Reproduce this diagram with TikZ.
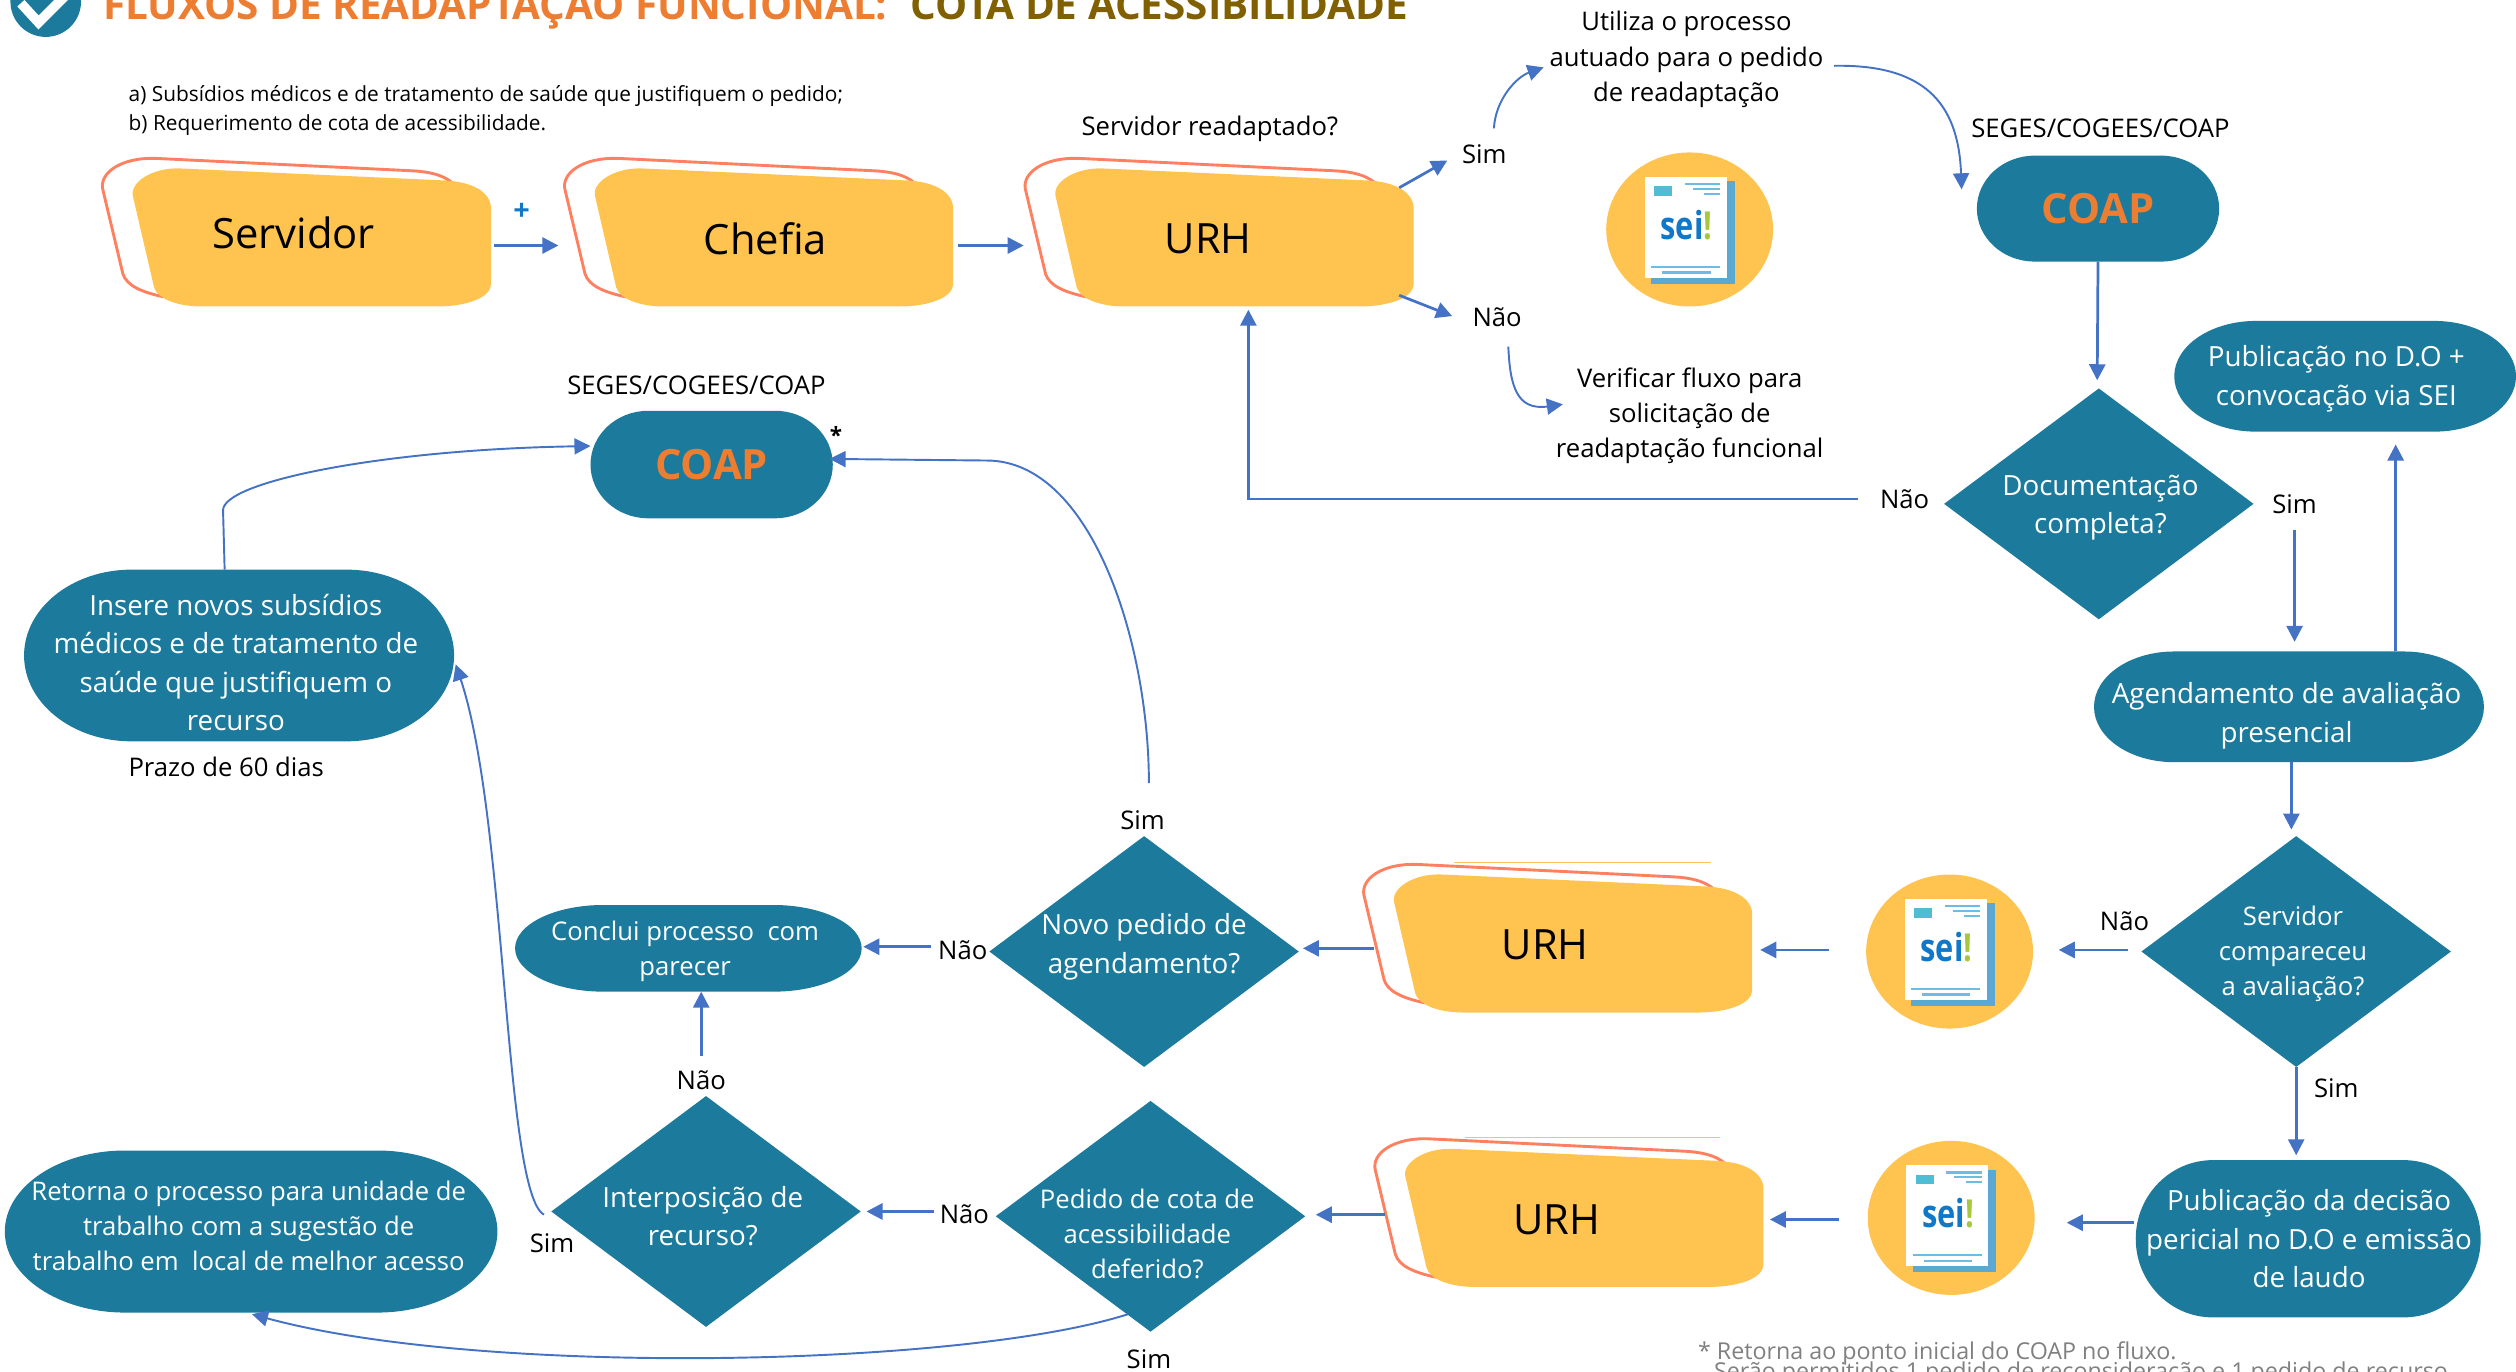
\documentclass[tikz,border=0pt]{standalone}
\usepackage{fontspec}
\setmainfont{Open Sans}
\usetikzlibrary{shapes.geometric,arrows.meta}
\definecolor{teal}{HTML}{1C7A9C}
\definecolor{ylw}{HTML}{FFC34F}
\definecolor{orng}{HTML}{FF8060}
\definecolor{arw}{HTML}{4472C4}
\definecolor{ttl}{HTML}{ED7D31}
\definecolor{ttlb}{HTML}{806000}
\definecolor{seib}{HTML}{0F78C8}
\definecolor{seig}{HTML}{A8C83C}
\definecolor{dstack}{HTML}{5BA9D3}
\definecolor{dline}{HTML}{6CBCE4}
\definecolor{dsq}{HTML}{4FBDD3}
\newcommand{\fz}[2]{\fontsize{#1}{#2}\selectfont}
\tikzset{
  x=1pt,y=-1pt,
  lbl/.style={inner sep=0pt,align=center,yshift=-2pt,font=\fz{16}{22}},
  word/.style={inner sep=0pt,align=center,yshift=-1pt,font=\fz{16}{22}},
  wht/.style={inner sep=0pt,align=center,yshift=-2pt,text=white,font=\fz{17.3}{24}},
  whs/.style={wht,font=\fz{16}{22}},
  coapt/.style={inner sep=0pt,text=ttl,font=\fz{26}{30}\bfseries},
  dian/.style={diamond,fill=teal,draw=none,inner sep=0pt,aspect=1.34,minimum width=193pt,minimum height=144pt},
  conn/.style={arw,line width=1.7pt,-{Triangle[length=10pt,width=10pt]}},
  curv/.style={arw,line width=1.2pt,-{Triangle[length=10pt,width=10pt]}},
  boxn/.style={inner sep=0pt,minimum width=222pt,minimum height=86pt},
  boxt/.style={inner sep=0pt,font=\fz{26}{30}},
  seie/.style={ellipse,fill=ylw,draw=none,inner sep=0pt,minimum width=104pt,minimum height=96pt},
}
% pill with elliptical ends: name, cx, cy, width, height, end radius
\newcommand{\pillr}[6]{%
  \pgfmathsetmacro{\hw}{#4/2}\pgfmathsetmacro{\hh}{#5/2}%
  \pgfmathsetmacro{\ix}{\hw-#6}\pgfmathsetmacro{\cx}{\ix+0.5523*#6}\pgfmathsetmacro{\cy}{0.5523*\hh}%
  \fill[teal,shift={(#2,#3)}] (-\ix,-\hh) -- (\ix,-\hh)
    .. controls (\cx,-\hh) and (\hw,-\cy) .. (\hw,0)
    .. controls (\hw,\cy) and (\cx,\hh) .. (\ix,\hh) -- (-\ix,\hh)
    .. controls (-\cx,\hh) and (-\hw,\cy) .. (-\hw,0)
    .. controls (-\hw,-\cy) and (-\cx,-\hh) .. (-\ix,-\hh) -- cycle;
  \node[inner sep=0pt,minimum width=#4pt,minimum height=#5pt] (#1) at (#2,#3) {};}
% yellow box with orange outline behind it; #1 name, #2,#3 offset
\newcommand{\ybox}[3]{%
  \begin{scope}[shift={(#2,#3)}]
    \draw[orng,line width=1.8pt] (102,185) .. controls (88,182) and (79,178) .. (76.6,170.7) -- (64,117.8) .. controls (62,108) and (75,98) .. (97,98.7) -- (256,106.4) .. controls (268,107) and (276,109) .. (282,114);
    \fill[ylw] (113,105) -- (278,112.5) .. controls (295,113.5) and (306,120) .. (306,130) -- (306,177) .. controls (306,185) and (292,191) .. (272,191) -- (126,191) .. controls (110,191) and (98,186) .. (96,179) -- (83,123) .. controls (80,114) and (95,104) .. (113,105) -- cycle;
    \node[boxn] (#1) at (195,148) {};
  \end{scope}}
% SEI icon; #1 name, #2,#3 centre
\newcommand{\seiicon}[3]{%
  \node[seie] (#1) at (#2,#3) {};
  \begin{scope}[shift={(#2,#3)}]
    \fill[dstack] (-24,-30) rectangle (28,34);
    \fill[white] (-28,-33) rectangle (23,30);
    \fill[dsq] (-22,-27) rectangle (-11,-21);
    \fill[dline] (-3,-29) rectangle (19,-27.6);
    \fill[dline] (2,-26) rectangle (19,-24.6);
    \fill[dline] (9,-23) rectangle (19,-21.6);
    \fill[dline] (-24,22.5) rectangle (19,24);
    \fill[dline] (-17,26) rectangle (13,27.5);
    \node[inner sep=0pt,xscale=.8,font=\fz{24}{26}\bfseries] at (-2,-3) {\textcolor{seib}{sei}\textcolor{seig}{!}};
  \end{scope}}
\begin{document}
\begin{tikzpicture}
\useasboundingbox (0,0) rectangle (1568,854.42);
\clip (0,0) rectangle (1568,854.42);
% logo and title
\fill[teal] (28.5,1) circle (22);
\draw[white,line width=6pt] (13,2) -- (24,14) -- (44,-6);
\node[anchor=base west,inner sep=0pt,text=ttl,font=\fz{25.2}{26}\bfseries] (ttla) at (64,12) {FLUXOS DE READAPTAÇÃO FUNCIONAL:};
\node[anchor=base west,inner sep=0pt,text=ttlb,font=\fz{25.2}{26}\bfseries] (ttlc) at (567,12) {COTA DE ACESSIBILIDADE};
\node[anchor=west,inner sep=0pt,align=left,font=\fz{13}{18}] (subs) at (80,69) {a) Subsídios médicos e de tratamento de saúde que justifiquem o pedido;\\b) Requerimento de cota de acessibilidade.};
% yellow boxes
\ybox{srv}{0}{0}
\ybox{chf}{288}{0}
\ybox{urha}{575}{0}
\ybox{urhb}{786}{440}
\ybox{urhc}{793}{611}
\draw[ylw,line width=.7pt] (906,537.5) -- (1066,537.5);
\draw[ylw,line width=.7pt] (913,708.8) -- (1072,708.8);
\node[boxt] (srvt) at (183,145) {Servidor};
\node[boxt] (chft) at (477,149) {Chefia};
\node[boxt] (urhat) at (753,149) {URH};
\node[boxt] (urhbt) at (963,589) {URH};
\node[boxt] (urhct) at (970,760) {URH};
\node[inner sep=0pt,text=seib,font=\fz{18}{20}\bfseries] (plus) at (325,132) {+};
% labels
\node[lbl] (qr) at (754,78) {Servidor readaptado?};
\node[word] (sima) at (925,95) {Sim};
\node[word] (naoa) at (933,197) {Não};
\node[lbl] (utl) at (1051,35) {Utiliza o processo\\autuado para o pedido\\de readaptação};
\node[lbl] (ver) at (1053,257) {Verificar fluxo para\\solicitação de\\readaptação funcional};
\node[lbl] (segesa) at (1309,78) {SEGES/COGEES/COAP};
\node[lbl] (segesb) at (434,238) {SEGES/COGEES/COAP};
\node[word] (naob) at (1187,310) {Não};
\node[word] (simb) at (1430,313) {Sim};
\node[word] (naoc) at (1324,573) {Não};
\node[word] (simc) at (1456,677) {Sim};
\node[word] (simd) at (712,510) {Sim};
\node[word] (naod) at (600,591) {Não};
\node[word] (naoe) at (437,672) {Não};
\node[word] (sime) at (344,774) {Sim};
\node[word] (naof) at (601,756) {Não};
\node[word] (simf) at (716,846) {Sim};
\node[lbl] (prazo) at (141,476) {Prazo de 60 dias};
\node[inner sep=0pt,font=\fz{14}{16}\bfseries] (ast) at (521,271) {*};
% teal pills
\pillr{coapa}{1307.5}{130}{151}{66}{36}
\node[coapt] (coapat) at (1307.5,130) {COAP};
\pillr{coapb}{443.5}{289.5}{151}{67}{36}
\node[coapt] (coapbt) at (443.5,289.5) {COAP};
\pillr{pub}{1461.5}{234.5}{213}{69}{51}
\node[wht] (pubt) at (1456,234) {Publicação no D.O +\\convocação via SEI};
\pillr{agd}{1426.5}{440.5}{243}{69}{50}
\node[wht] (agdt) at (1425,444) {Agendamento de avaliação\\presencial};
\pillr{pubd}{1438.5}{772}{215}{98}{48}
\node[wht] (pubdt) at (1439,770) {Publicação da decisão\\pericial no D.O e emissão\\de laudo};
\pillr{concl}{429}{591}{216}{54}{55}
\node[whs] (conclt) at (427,591) {Conclui processo\ \ com\\parecer};
\pillr{ins}{149}{408.5}{268}{107}{67}
\node[wht] (inst) at (147,411) {Insere novos subsídios\\médicos e de tratamento de\\saúde que justifiquem o\\recurso};
\pillr{ret}{156.5}{767.5}{307}{101}{75}
\node[whs] (rett) at (155,762) {Retorna o processo para unidade de\\trabalho com a sugestão de\\trabalho em\ \ local de melhor acesso};
% diamonds
\node[dian] (doc) at (1308,314) {};
\node[wht] (doct) at (1309,314.5) {Documentação\\completa?};
\node[dian] (srvc) at (1431,593) {};
\node[whs] (srvct) at (1429,592.5) {Servidor\\compareceu\\a avaliação?};
\node[dian] (novo) at (713,593) {};
\node[wht] (novot) at (713,588) {Novo pedido de\\agendamento?};
\node[dian] (pdc) at (717,758) {};
\node[whs] (pdct) at (715,767) {Pedido de cota de\\acessibilidade\\deferido?};
\node[dian] (intp) at (440,755) {};
\node[wht] (intpt) at (438,756) {Interposição de\\recurso?};
% SEI icons
\seiicon{seia}{1053}{143}
\seiicon{seib}{1215}{593}
\seiicon{seic}{1216}{759}
% footnote
\node[anchor=base west,inner sep=0pt,text=gray,font=\fz{14.5}{16}] (fna) at (1058,847) {* Retorna ao ponto inicial do COAP no fluxo.};
\node[anchor=base west,inner sep=0pt,text=gray,font=\fz{14.5}{16}] (fnb) at (1068,860) {Serão permitidos 1 pedido de reconsideração e 1 pedido de recurso};
% connectors
\draw[conn] ([shift={(113,5)}]srv.center) -- ([shift={(-135,5)}]chf.center);
\draw[conn] ([shift={(114,5)}]chf.center) -- ([shift={(-132,5)}]urha.center);
\draw[conn] ([shift={(102,-31)}]urha.center) -- ([shift={(-23,4)}]sima.center);
\draw[conn] ([shift={(102,36)}]urha.center) -- ([shift={(-28,-1)}]naoa.center);
\draw[curv] ([shift={(6,-16)}]sima.center) .. controls +(1,-18) and +(-17,6) .. ([shift={(-89,5)}]utl.center);
\draw[curv] ([shift={(92,4)}]utl.center) .. controls +(55,-1) and +(-2,-55) .. ([shift={(-85,-12)}]coapa.center);
\draw[conn] ([shift={(0,33)}]coapa.center) -- ([shift={(-1,-77)}]doc.center);
\draw[conn] ([shift={(-29,0)}]naob.center) -| ([shift={(8,45)}]urha.center);
\draw[conn] ([shift={(0,16)}]simb.center) -- ([shift={(3.5,-40.5)}]agd.center);
\draw[conn] ([shift={(66.5,-34.5)}]agd.center) -- ([shift={(31.5,42.5)}]pub.center);
\draw[conn] ([shift={(1.5,34.5)}]agd.center) -- ([shift={(-3,-76)}]srvc.center);
\draw[conn] ([shift={(2,18)}]naoc.center) -- ([shift={(68,-1)}]seib.center);
\draw[conn] ([shift={(0,72)}]srvc.center) -- ([shift={(-7.5,-52)}]pubd.center);
\draw[conn] ([shift={(-75,-1)}]seib.center) -- ([shift={(116,4)}]urhb.center);
\draw[conn] ([shift={(-125,3)}]urhb.center) -- ([shift={(99,-2)}]novo.center);
\draw[conn] ([shift={(-20,-2)}]naod.center) -- ([shift={(109,-1)}]concl.center);
\coordinate (bend) at (615,287);
\draw[curv] ([shift={(4,-23)}]simd.center) .. controls +(0,-88) and +(65,0) .. (bend) -- ([shift={(73.5,-3.5)}]coapb.center);
\draw[conn] ([shift={(-108.5,-10)}]pubd.center) -- ([shift={(72,3)}]seic.center);
\draw[conn] ([shift={(-70,1)}]seic.center) -- ([shift={(115,1)}]urhc.center);
\draw[conn] ([shift={(-125,-2)}]urhc.center) -- ([shift={(103,-1)}]pdc.center);
\draw[conn] ([shift={(-19,-2)}]naof.center) -- ([shift={(100,0)}]intp.center);
\draw[conn] ([shift={(0,-15)}]naoe.center) -- ([shift={(8,27)}]concl.center);
\draw[curv] ([shift={(-101,2)}]intp.center) .. controls +(-25,-14) and +(32,96) .. ([shift={(135,5.5)}]ins.center);
\coordinate (bendb) at (139,318);
\draw[curv] ([shift={(-9,-53.5)}]ins.center) -- (bendb) .. controls +(0,-18) and +(-128,2) .. ([shift={(-75.5,-11.5)}]coapb.center);
\draw[curv] ([shift={(-14,61)}]pdc.center) .. controls +(-103,33) and +(143,39) .. ([shift={(0.5,51.5)}]ret.center);
\draw[curv] ([shift={(7,18)}]naoa.center) .. controls +(1,24) and +(-29,4) .. ([shift={(-79,-7)}]ver.center);
\end{tikzpicture}
\end{document}
